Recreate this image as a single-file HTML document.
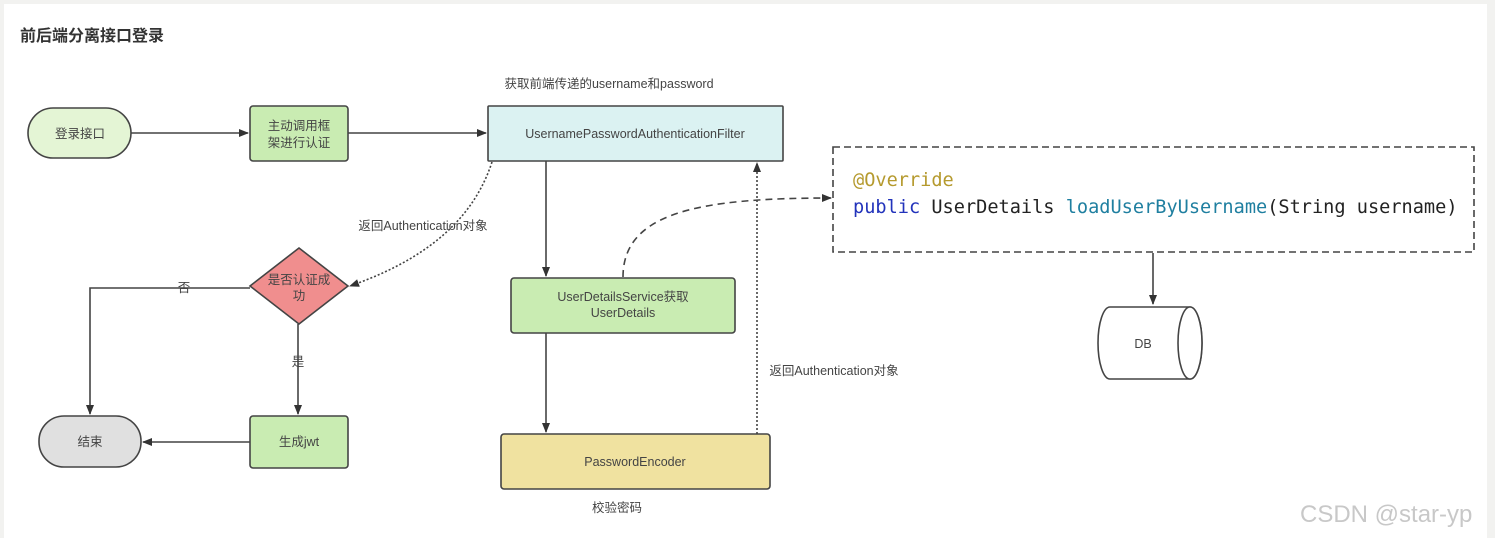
<!DOCTYPE html>
<html><head><meta charset="utf-8"><style>
html,body{margin:0;padding:0;width:1495px;height:538px;overflow:hidden;background:#f2f2f0;}
svg{display:block}
</style></head><body>
<svg width="1495" height="538" xmlns="http://www.w3.org/2000/svg" font-family="'Liberation Sans','Noto Sans CJK SC',sans-serif">
<defs>
<marker id="a" markerWidth="10" markerHeight="10" refX="9" refY="5" orient="auto" markerUnits="userSpaceOnUse"><path d="M0,1 L10,5 L0,9 Z" fill="#333"/></marker>
</defs>
<rect x="4" y="4" width="1483" height="534" fill="#fff"/>
<text x="20" y="41" font-size="16" font-weight="bold" fill="#333">前后端分离接口登录</text>
<g stroke="#444" stroke-width="1.6" fill="none">
<line x1="131" y1="133" x2="248" y2="133" marker-end="url(#a)"/>
<line x1="348" y1="133" x2="486" y2="133" marker-end="url(#a)"/>
<line x1="546" y1="161" x2="546" y2="276" marker-end="url(#a)"/>
<line x1="546" y1="333" x2="546" y2="432" marker-end="url(#a)"/>
<path d="M623,277 C623,212 700,198 831,198" stroke-dasharray="7,5" marker-end="url(#a)"/>
<line x1="757" y1="434" x2="757" y2="163" stroke-dasharray="2,2" marker-end="url(#a)"/>
<path d="M492,162 C470,230 410,265 350,286" stroke-dasharray="2,2" marker-end="url(#a)"/>
<polyline points="250,288 90,288 90,414" marker-end="url(#a)"/>
<line x1="298" y1="324" x2="298" y2="414" marker-end="url(#a)"/>
<line x1="250" y1="442" x2="143" y2="442" marker-end="url(#a)"/>
<line x1="1153" y1="253" x2="1153" y2="304" marker-end="url(#a)"/>
</g>
<g stroke="#444" stroke-width="1.6">
<rect x="28" y="108" width="103" height="50" rx="25" fill="#e4f5d5"/>
<rect x="250" y="106" width="98" height="55" rx="3" fill="#c9ecb2"/>
<rect x="488" y="106" width="295" height="55" rx="1" fill="#dbf2f2"/>
<polygon points="299,248 348,286 299,324 250,286" fill="#f08e8e"/>
<rect x="39" y="416" width="102" height="51" rx="25" fill="#e0e0e0"/>
<rect x="250" y="416" width="98" height="52" rx="3" fill="#c9ecb2"/>
<rect x="511" y="278" width="224" height="55" rx="3" fill="#c9ecb2"/>
<rect x="501" y="434" width="269" height="55" rx="3" fill="#f0e2a0"/>
<rect x="833" y="147" width="641" height="105" fill="#fff" stroke-dasharray="7,4"/>
<path d="M1110,307 L1190,307 A12,36 0 0 1 1190,379 L1110,379 A12,36 0 0 1 1110,307 Z" fill="#fff"/>
<ellipse cx="1190" cy="343" rx="12" ry="36" fill="#fff"/>
</g>
<g font-size="12.5" fill="#444" text-anchor="middle">
<text x="80" y="138">登录接口</text>
<text x="299" y="130">主动调用框</text>
<text x="299" y="147">架进行认证</text>
<text x="635" y="138">UsernamePasswordAuthenticationFilter</text>
<text x="299" y="284">是否认证成</text>
<text x="299" y="300">功</text>
<text x="90" y="446">结束</text>
<text x="299" y="446">生成jwt</text>
<text x="623" y="301">UserDetailsService获取</text>
<text x="623" y="317">UserDetails</text>
<text x="635" y="466">PasswordEncoder</text>
<text x="1143" y="348">DB</text>
<text x="609" y="88">获取前端传递的username和password</text>
<text x="423" y="230">返回Authentication对象</text>
<text x="834" y="375">返回Authentication对象</text>
<text x="617" y="512">校验密码</text>
<text x="184" y="292">否</text>
<text x="298" y="366">是</text>
</g>
<g font-family="'DejaVu Sans Mono','Liberation Mono',monospace" font-size="18.6">
<text x="853" y="186" fill="#b59a2e">@Override</text>
<text x="853" y="213"><tspan fill="#2233bb">public</tspan><tspan fill="#222"> UserDetails </tspan><tspan fill="#1f7fa0">loadUserByUsername</tspan><tspan fill="#222">(String username)</tspan></text>
</g>
<text x="1300" y="522" font-size="24" fill="#c8c8c8">CSDN @star-yp</text>
</svg>
</body></html>
